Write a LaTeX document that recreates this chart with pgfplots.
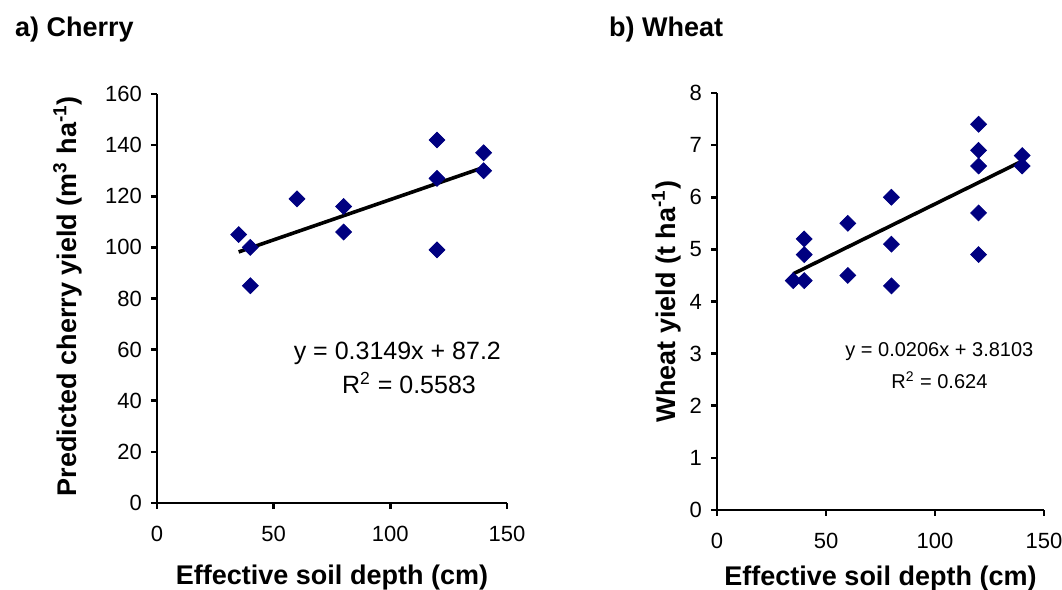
\documentclass[border=0pt]{standalone}
\usepackage{pgfplots}
\pgfplotsset{compat=1.18}
\usepackage{fontspec}
\setmainfont{Liberation Sans}
\definecolor{navy}{RGB}{0,0,128}

\pgfplotsset{
  excel/.style={
    scale only axis,
    axis x line*=bottom, axis y line*=left,
    axis line style={line width=1.4pt},
    every tick/.style={black, line width=1.3pt},
    major tick length=3pt,
    tick align=outside,
    xmin=0, xmax=150, xtick={0,50,100,150},
    tick label style={font=\fontsize{11}{13}\selectfont},
    xticklabel style={yshift=-5pt},
    yticklabel style={xshift=-1pt},
    /pgf/number format/assume math mode=true,
    label style={font=\fontsize{13.5}{16}\selectfont\bfseries},
    clip=false,
  },
  pts/.style={only marks, mark=square*, mark size=2.8pt,
    mark options={rotate=45, fill=navy, draw=navy}},
  trend/.style={black, line width=1.8pt, no marks},
}

\begin{document}
\begin{tikzpicture}
\path[use as bounding box] (0,0) rectangle (531pt,295pt);

\node[anchor=west, font=\fontsize{13.5}{16}\selectfont\bfseries] at (4pt,280pt) {a) Cherry};
\node[anchor=west, font=\fontsize{13.5}{16}\selectfont\bfseries] at (301pt,280pt) {b) Wheat};

\begin{axis}[excel,
  at={(78.5pt,43.5pt)}, anchor=south west,
  width=175pt, height=204.5pt,
  ymin=0, ymax=160, ytick={0,20,...,160},
  xlabel={Effective soil depth (cm)},
  ylabel={Predicted cherry yield (m\textsuperscript{3} ha\textsuperscript{-1})},
  xlabel style={at={(axis description cs:0.5,-0.183)}, anchor=center},
  ylabel style={at={(axis description cs:-0.255,0.506)}, anchor=center},
]
\addplot[pts] coordinates {
  (35,105) (40,100) (40,85) (60,119) (80,116) (80,106)
  (120,142) (120,127) (120,99) (140,137) (140,130)
};
\addplot[trend] coordinates {(35,98.2215) (140,131.286)};
\node[font=\fontsize{12.5}{15}\selectfont] at (axis cs:103,58.7) {y = 0.3149x + 87.2};
\node[font=\fontsize{12.5}{15}\selectfont] at (axis cs:108,47) {R\textsuperscript{2} = 0.5583};
\end{axis}

\begin{axis}[excel,
  at={(358.5pt,40pt)}, anchor=south west,
  width=163.5pt, height=208.5pt,
  ymin=0, ymax=8, ytick={0,1,...,8},
  xlabel={Effective soil depth (cm)},
  ylabel={Wheat yield (t ha\textsuperscript{-1})},
  xlabel style={at={(axis description cs:0.5,-0.165)}, anchor=center},
  ylabel style={at={(axis description cs:-0.155,0.50)}, anchor=center},
]
\addplot[pts] coordinates {
  (35,4.4) (40,4.4) (40,4.9) (40,5.2) (60,5.5) (60,4.5)
  (80,6.0) (80,5.1) (80,4.3) (120,7.4) (120,6.9) (120,6.6)
  (120,5.7) (120,4.9) (140,6.8) (140,6.6)
};
\addplot[trend] coordinates {(35,4.5313) (140,6.6943)};
\node[font=\fontsize{10}{12}\selectfont] at (axis cs:102,3.03) {y = 0.0206x + 3.8103};
\node[font=\fontsize{10}{12}\selectfont] at (axis cs:102,2.49) {R\textsuperscript{2} = 0.624};
\end{axis}
\end{tikzpicture}
\end{document}
